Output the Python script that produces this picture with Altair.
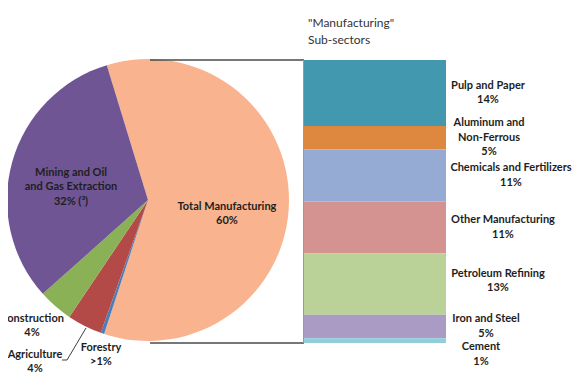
import math
import altair as alt
import pandas as pd

# ---------------- data ----------------
sectors = ["Total Manufacturing", "Forestry", "Agriculture", "Construction",
           "Mining and Oil and Gas Extraction"]
sector_share = [60, 0.4, 4, 4, 32]
sector_text = ["Total Manufacturing\n60%", "Forestry\n>1%", "Agriculture\n4%",
               "Construction\n4%", "Mining and Oil\nand Gas Extraction\n32% (³)"]

subsectors = ["Pulp and Paper", "Aluminum and Non-Ferrous", "Chemicals and Fertilizers",
              "Other Manufacturing", "Petroleum Refining", "Iron and Steel", "Cement"]
subsector_share = [14, 5, 11, 11, 13, 5, 1]
subsector_text = ["Pulp and Paper\n14%", "Aluminum and\nNon-Ferrous\n5%",
                  "Chemicals and Fertilizers\n11%", "Other Manufacturing\n11%",
                  "Petroleum Refining\n13%", "Iron and Steel\n5%", "Cement\n1%"]

title_text = '"Manufacturing"\nSub-sectors'

# ---------------- styles / layout ----------------
sector_colors = ["#F9B48F", "#4A7EBB", "#B44A47", "#8BB157", "#6F5594"]
subsector_colors = ["#4198AF", "#DD873F", "#95ABD4", "#D49290", "#BAD197", "#AA9BC4", "#92CDDC"]

W, H = 564, 375
pie_cx, pie_cy, pie_r = 140, 192, 141
start = math.radians(-17)
bar_x0, bar_x1 = 296, 438
bar_top, bar_bottom = 52, 335
LH = 14.5

# centre of each label block (chart pixels)
sector_label_x = [219, 93, 27, 24, 63]
sector_label_y = [206, 347, 354, 318, 179]
sub_label_x = [480, 481, 503, 495, 490, 478, 473]
sub_label_dy = [0, 0, 0, 0, -3, 0, 14]

FONT = "Lato"

# ---------------- frames ----------------
pie_df = pd.DataFrame({"sector": sectors, "share": sector_share,
                       "order": list(range(len(sectors)))})
pie_lab = pd.DataFrame({"text": sector_text, "lx": sector_label_x, "ly": sector_label_y})
pie_lab["ly"] = pie_lab["ly"] - (pie_lab["text"].str.count("\n")) * LH / 2

bar_df = pd.DataFrame({"sub": subsectors, "share": subsector_share})
bar_df["end"] = bar_df["share"].cumsum()
bar_df["start"] = bar_df["end"] - bar_df["share"]
bar_df["mid"] = (bar_df["start"] + bar_df["end"]) / 2
bar_df["text"] = subsector_text
bar_df["lx"] = sub_label_x
bar_df["shift"] = [d - t.count("\n") * LH / 2 for d, t in zip(sub_label_dy, subsector_text)]

total = sum(subsector_share)
yscale = alt.Scale(domain=[0, total], range=[bar_top, bar_bottom], nice=False, zero=False)

pie = alt.Chart(pie_df).mark_arc(outerRadius=pie_r).encode(
    theta=alt.Theta("share:Q", stack=True,
                    scale=alt.Scale(range=[start, start + 2 * math.pi])),
    color=alt.Color("sector:N", scale=alt.Scale(domain=sectors, range=sector_colors), legend=None),
    order=alt.Order("order:Q"),
    x=alt.value(pie_cx), y=alt.value(pie_cy),
)

text_common = dict(font=FONT, fontSize=11, fontWeight="bold", color="#1e1e1e",
                   lineBreak="\n", lineHeight=LH, align="center", baseline="middle")

pie_labels = alt.Chart(pie_lab).mark_text(**text_common).encode(
    x=alt.X("lx:Q", scale=None, axis=None),
    y=alt.Y("ly:Q", scale=None, axis=None),
    text="text:N",
)

leader = alt.Chart(pd.DataFrame({"px": [54, 59, 78], "py": [352, 352, 320], "k": [0, 1, 2]})).mark_line(
    color="#404040", strokeWidth=1).encode(
    x=alt.X("px:Q", scale=None, axis=None),
    y=alt.Y("py:Q", scale=None, axis=None),
    order="k:Q",
)

bars = alt.Chart(bar_df).mark_rect().encode(
    y=alt.Y("start:Q", scale=yscale, axis=None),
    y2="end:Q",
    color=alt.Color("sub:N", scale=alt.Scale(domain=subsectors, range=subsector_colors), legend=None),
    x=alt.value(bar_x0), x2=alt.value(bar_x1),
)

bar_labels = []
for s in sorted(set(bar_df["shift"])):
    bar_labels.append(
        alt.Chart(bar_df).transform_filter(alt.datum.shift == s).mark_text(dy=s, **text_common).encode(
            x=alt.X("lx:Q", scale=None, axis=None),
            y=alt.Y("mid:Q", scale=yscale, axis=None),
            text="text:N",
        )
    )

conn = alt.Chart(pd.DataFrame({"v": [0, total]})).mark_rule(
    color="#4a4a4a", strokeWidth=1.5).encode(
    y=alt.Y("v:Q", scale=yscale, axis=None),
    x=alt.value(pie_cx + 2), x2=alt.value(bar_x0),
)
edge = alt.Chart(pd.DataFrame({"v": [0], "v2": [total]})).mark_rule(
    color="#9a9a9a", strokeWidth=1).encode(
    y=alt.Y("v:Q", scale=yscale, axis=None), y2="v2:Q",
    x=alt.value(bar_x0 - 0.5),
)

title = alt.Chart(pd.DataFrame({"t": [title_text]})).mark_text(
    font=FONT, fontSize=12, color="#333333", lineBreak="\n", lineHeight=17,
    align="left", baseline="middle").encode(
    x=alt.value(300), y=alt.value(15), text="t:N")

chart = alt.layer(pie, pie_labels, leader, conn, bars, edge, *bar_labels, title).resolve_scale(
    x="independent", y="independent", color="independent", theta="independent"
).properties(width=W, height=H, autosize=alt.AutoSizeParams(type="none"), padding=0,
             background="white").configure_view(strokeWidth=0)

chart.save("out.html", embed_options={"renderer": "svg", "actions": False})
